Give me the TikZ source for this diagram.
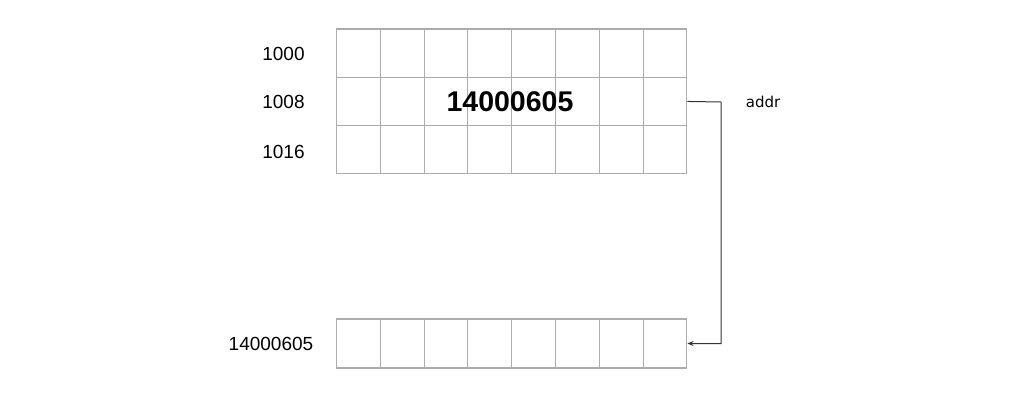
\documentclass[tikz,border=0pt]{standalone}
\usepackage{fontspec}
\setmainfont{Liberation Sans}
\newfontfamily\addrfont{DejaVu Sans}
\usetikzlibrary{arrows.meta, positioning, calc}

\begin{document}
\begin{tikzpicture}[
                x=1pt, y=1pt,
                cell/.style={draw=gray!65, line width=1.1pt, minimum width=43.8pt, minimum height=48.3pt, inner sep=0pt},
                addrlabel/.style={font=\fontsize{19}{21}\selectfont, text=black},
                link/.style={draw=black!80, line width=1pt, -{Stealth[length=6pt, width=5pt]}}
            ]
                \useasboundingbox (0,0) rectangle (1024,-400);

                % memory block
                \foreach \r in {1,2,3} {
                    \foreach \c in {1,...,8} {
                        \node[cell] (mem-\r-\c) at ({336.5+43.8*(\c-0.5)}, {-(29+48.3*(\r-0.5))}) {};
                    }
                }

                % target block
                \foreach \c in {1,...,8} {
                    \node[cell, minimum height=49pt] (tgt-\c) at ({336.5+43.8*(\c-0.5)}, -343.5) {};
                }

                \node[addrlabel] (a1000) at (283.5, -54) {1000};
                \node[addrlabel] (a1008) at (283.5, -102) {1008};
                \node[addrlabel] (a1016) at (283.5, -152) {1016};
                \node[addrlabel] (atgt) at (271, -344) {14000605};

                \node[font=\bfseries\fontsize{28.5}{31}\selectfont] (val) at (510, -102) {14000605};

                % pointer
                \coordinate (bend) at (721, -102);
                \draw[link] (mem-2-8.east) -- (bend) |- (tgt-8.east);
                \node[font=\addrfont\fontsize{15}{17}\selectfont] (ptr) at (763, -102) {addr};
            \end{tikzpicture}
\end{document}
